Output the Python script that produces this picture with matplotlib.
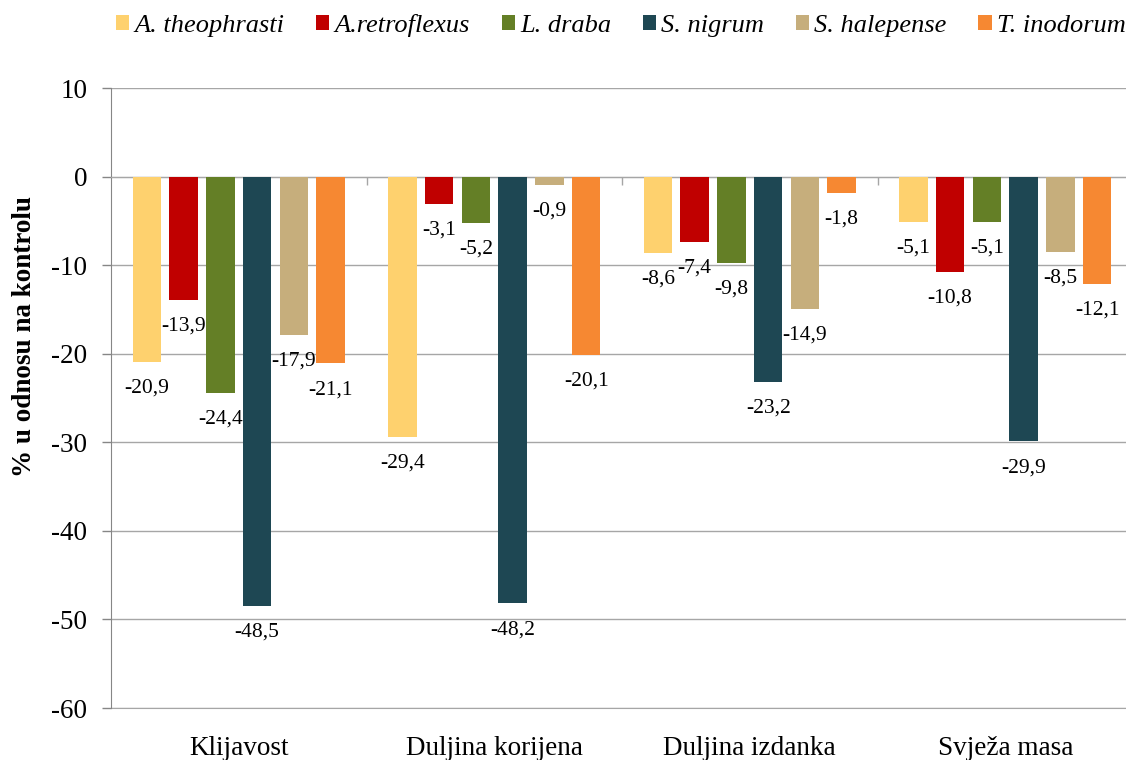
import matplotlib
matplotlib.use("Agg")
import matplotlib.pyplot as plt
import numpy as np
from matplotlib.patches import Patch

# podaci (% u odnosu na kontrolu)
categories = ["Klijavost", "Duljina korijena", "Duljina izdanka", "Svježa masa"]
species = ["A. theophrasti", "A.retroflexus", "L. draba", "S. nigrum", "S. halepense", "T. inodorum"]
a_theophrasti = [-20.9, -29.4, -8.6, -5.1]
a_retroflexus = [-13.9, -3.1, -7.4, -10.8]
l_draba = [-24.4, -5.2, -9.8, -5.1]
s_nigrum = [-48.5, -48.2, -23.2, -29.9]
s_halepense = [-17.9, -0.9, -14.9, -8.5]
t_inodorum = [-21.1, -20.1, -1.8, -12.1]
colors = ["#FED16E", "#C00000", "#647F26", "#1E4753", "#C6AE7C", "#F68832"]
yticks = [10, 0, -10, -20, -30, -40, -50, -60]

series = [a_theophrasti, a_retroflexus, l_draba, s_nigrum, s_halepense, t_inodorum]

plt.rcParams["font.family"] = ["Liberation Serif", "DejaVu Serif"]

fig = plt.figure(figsize=(11.26, 7.6), dpi=100)
ax = fig.add_axes([111 / 1126, 1 - 708 / 760, 1015 / 1126, 620 / 760])

x = np.arange(len(categories))
pitch = 0.144
width = 0.1115
for i, (vals, col) in enumerate(zip(series, colors)):
    bars = ax.bar(x + (i - 2.5) * pitch, vals, width, color=col, zorder=3)
    ax.bar_label(bars, labels=[f"{v:.1f}".replace(".", ",") for v in vals],
                 padding=12, fontsize=15.5, zorder=4)

ax.set_xlim(-0.5, -0.5 + 1015 / 255.5)
ax.set_ylim(-60, 10)
ax.set_yticks(yticks)
ax.set_yticklabels([str(t) for t in yticks], fontsize=19.5)
ax.yaxis.grid(True, color="#A6A6A6", linewidth=1.0, zorder=0)
ax.tick_params(axis="y", length=6.5, width=1, color="#868686", pad=10.5)

for s in ["top", "right"]:
    ax.spines[s].set_visible(False)
ax.spines["left"].set_color("#868686")
ax.spines["bottom"].set_position(("data", 0))
ax.spines["bottom"].set_color("#A6A6A6")
ax.set_xticks([0.5, 1.5, 2.5])
ax.set_xticklabels([])
ax.tick_params(axis="x", direction="out", length=6, width=1, color="#A6A6A6")

sec = ax.secondary_xaxis(0)
sec.set_xticks(x)
sec.set_xticklabels(categories, fontsize=19.5)
sec.tick_params(length=0, pad=20)
sec.spines["bottom"].set_color("#A6A6A6")

fig.text(25 / 1126, 1 - 336 / 760, "% u odnosu na kontrolu", rotation=90,
         ha="center", va="center", fontsize=19.5, fontweight="bold")

handles = [Patch(facecolor=c) for c in colors]
fig.legend(handles, species, loc="center left", bbox_to_anchor=(0.103, 0.967),
           ncol=6, frameon=False, handlelength=0.5, handleheight=0.5,
           handletextpad=0.2, columnspacing=1.2, borderpad=0, borderaxespad=0,
           prop={"style": "italic", "size": 19})

fig.savefig("out.png", dpi=100)
